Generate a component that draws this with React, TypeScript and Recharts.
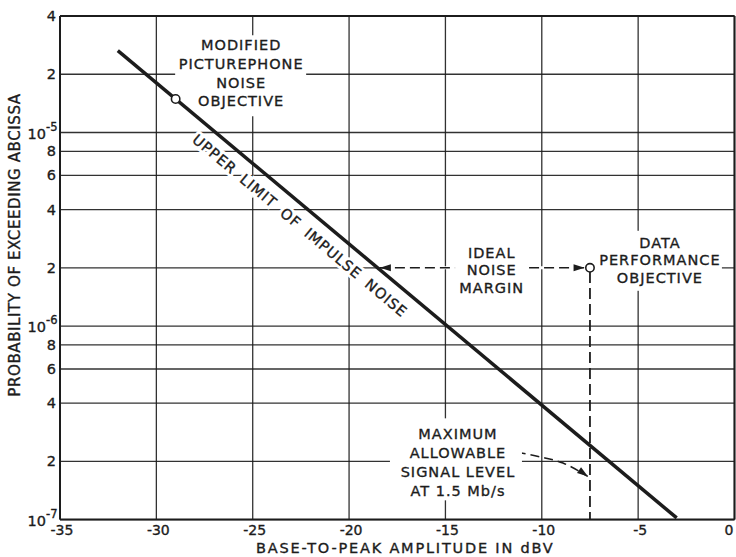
import {
  ComposedChart,
  Line,
  Scatter,
  XAxis,
  YAxis,
  CartesianGrid,
  ReferenceLine,
  ReferenceDot,
} from 'recharts'

const xTicks = [-35, -30, -25, -20, -15, -10, -5, 0]
const yTicks = [1e-7, 2e-7, 4e-7, 6e-7, 8e-7, 1e-6, 2e-6, 4e-6, 6e-6, 8e-6, 1e-5, 2e-5, 4e-5]
const yTickLabels = ['10^-7', '2', '4', '6', '8', '10^-6', '2', '4', '6', '8', '10^-5', '2', '4']

// upper limit of impulse noise (straight on log paper)
const impulseLimit = [
  { x: -32, y: 2.65e-5 },
  { x: -3, y: 1.02e-7 },
]
// the two objective points (open circles)
const objectives = [
  { x: -29, y: 1.49e-5 },
  { x: -7.5, y: 2e-6 },
]
// dashed leader from "ALLOWABLE" to the signal level line
const allowableLeader = [
  { x: -11.3, y: 2.23e-7 },
  { x: -10.1, y: 2.11e-7 },
  { x: -8.9, y: 1.96e-7 },
  { x: -7.62, y: 1.67e-7 },
]

const INK = '#1c1c1c'
const FONT = '"DejaVu Sans", sans-serif'
// a touch of outline so the lettering looks as heavy as the drafted original
const HEFT = { stroke: INK, strokeWidth: 0.35 }

const YTick = (props: any) => {
  const { x, y, index } = props
  const label = yTickLabels[index] ?? ''
  if (label.startsWith('10^')) {
    const exp = label.slice(3)
    return (
      <g fontFamily={FONT} fill={INK} {...HEFT}>
        <text x={x - 10} y={y + 6} textAnchor="end" fontSize={14.5}>10</text>
        <text x={x - 10} y={y - 2} textAnchor="start" fontSize={11.5}>{exp}</text>
      </g>
    )
  }
  return (
    <text x={x} y={y + 5} textAnchor="end" fontSize={14.5} fontFamily={FONT} fill={INK} {...HEFT}>
      {label}
    </text>
  )
}

const XTick = (props: any) => {
  const { x, y, payload } = props
  const last = payload.value === 0
  return (
    <text
      x={last ? x - 1 : x + 2}
      y={y + 15.5}
      textAnchor={last ? 'end' : 'middle'}
      fontSize={14}
      fontFamily={FONT}
      fill={INK}
      {...HEFT}
    >
      {payload.value}
    </text>
  )
}

const TextBlock = ({ cx, cy, lines, offsets, rects }: any) => (
  <g>
    {(rects || []).map((r: number[], i: number) => (
      <rect key={i} x={cx + r[0]} y={cy + r[1]} width={r[2]} height={r[3]} fill="#fff" />
    ))}
    {lines.map((t: string, i: number) => (
      <text
        key={t}
        x={cx}
        y={cy + offsets[i]}
        textAnchor="middle"
        fontSize={14.5}
        letterSpacing={1}
        fontFamily={FONT}
        fill={INK}
        {...HEFT}
      >
        {t}
      </text>
    ))}
  </g>
)

const Arrow = ({ cx, cy, angle }: any) => (
  <polygon
    points={`${cx},${cy} ${cx - 11},${cy - 3.5} ${cx - 11},${cy + 3.5}`}
    transform={`rotate(${angle} ${cx} ${cy})`}
    fill={INK}
  />
)

export default function App() {
  return (
    <div style={{ position: 'absolute', left: 0, top: 0, background: '#fff' }}>
      <ComposedChart width={736} height={557} margin={{ top: 16, right: 1.5, left: 0, bottom: 0 }}>
        <CartesianGrid stroke={INK} strokeWidth={1.3} strokeOpacity={0.9} />
        <XAxis
          type="number"
          dataKey="x"
          domain={[-35, 0]}
          ticks={xTicks}
          interval={0}
          allowDataOverflow
          height={37.4}
          tickLine={false}
          tickSize={0}
          tickMargin={0}
          axisLine={{ stroke: INK, strokeWidth: 2 }}
          tick={XTick}
          label={{
            content: (p: any) => (
              <text
                x={p.viewBox.x + p.viewBox.width / 2 + 8}
                y={p.viewBox.y + 33.5}
                textAnchor="middle"
                fontSize={14.5}
                letterSpacing={1.8}
                fontFamily={FONT}
                fill={INK}
                {...HEFT}
              >
                BASE-TO-PEAK AMPLITUDE IN dBV
              </text>
            ),
          }}
        />
        <YAxis
          type="number"
          dataKey="y"
          scale="log"
          domain={[1e-7, 4e-5]}
          ticks={yTicks}
          interval={0}
          allowDataOverflow
          width={60}
          tickLine={false}
          tickSize={0}
          tickMargin={4}
          axisLine={{ stroke: INK, strokeWidth: 2 }}
          tick={YTick}
          label={{
            content: () => (
              <text
                x={0}
                y={0}
                transform="translate(20 245) rotate(-90)"
                textAnchor="middle"
                fontSize={15}
                letterSpacing={0.6}
                fontFamily={FONT}
                fill={INK}
                {...HEFT}
              >
                PROBABILITY OF EXCEEDING ABCISSA
              </text>
            ),
          }}
        />
        <ReferenceLine x={0} stroke={INK} strokeWidth={2} />
        <ReferenceLine y={4e-5} stroke={INK} strokeWidth={2} />

        {/* cover the 2e-6 grid line where the dashed margin runs */}
        <ReferenceLine
          segment={[{ x: -18.1, y: 2e-6 }, { x: -2.2, y: 2e-6 }]}
          stroke="#fff"
          strokeWidth={3}
        />

        {/* text blocks with white knock-outs */}
        <ReferenceDot
          x={-25.6}
          y={2e-5}
          r={0}
          shape={(p: any) => (
            <TextBlock
              cx={p.cx}
              cy={p.cy}
              lines={['MODIFIED', 'PICTUREPHONE', 'NOISE', 'OBJECTIVE']}
              offsets={[-24, -5, 13.5, 32]}
              rects={[[-66, -39, 131, 54], [-20, 14, 40, 28]]}
            />
          )}
        />
        <ReferenceDot
          x={-12.6}
          y={2e-6}
          r={0}
          shape={(p: any) => (
            <TextBlock
              cx={p.cx}
              cy={p.cy}
              lines={['IDEAL', 'NOISE', 'MARGIN']}
              offsets={[-10, 7.5, 25]}
            />
          )}
        />
        <ReferenceDot
          x={-3.87}
          y={2e-6}
          r={0}
          shape={(p: any) => (
            <TextBlock
              cx={p.cx}
              cy={p.cy}
              lines={['DATA', 'PERFORMANCE', 'OBJECTIVE']}
              offsets={[-20, -2.5, 15]}
              rects={[[-62, -37, 124, 60]]}
            />
          )}
        />
        <ReferenceDot
          x={-14.35}
          y={2e-7}
          r={0}
          shape={(p: any) => (
            <TextBlock
              cx={p.cx}
              cy={p.cy}
              lines={['MAXIMUM', 'ALLOWABLE', 'SIGNAL LEVEL', 'AT 1.5  Mb/s']}
              offsets={[-22, -3, 16, 35]}
              rects={[[-68, -43, 132, 82]]}
            />
          )}
        />
        <ReferenceDot
          x={-22.55}
          y={3.3e-6}
          r={0}
          shape={(p: any) => (
            <g transform={`rotate(40 ${p.cx} ${p.cy})`} fontFamily={FONT} fontSize={14.5}>
              <text
                x={p.cx}
                y={p.cy + 5}
                textAnchor="middle"
                letterSpacing={1}
                wordSpacing={4}
                fill="#fff"
                stroke="#fff"
                strokeWidth={6}
              >
                UPPER LIMIT OF IMPULSE NOISE
              </text>
              <text
                x={p.cx}
                y={p.cy + 5}
                textAnchor="middle"
                letterSpacing={1}
                wordSpacing={4}
                fill={INK}
                {...HEFT}
              >
                UPPER LIMIT OF IMPULSE NOISE
              </text>
            </g>
          )}
        />

        {/* ideal noise margin, dashed with arrows */}
        <ReferenceLine
          segment={[{ x: -18.4, y: 2e-6 }, { x: -14.5, y: 2e-6 }]}
          stroke={INK}
          strokeWidth={1.6}
          strokeDasharray="10 5"
        />
        <ReferenceLine
          segment={[{ x: -10.66, y: 2e-6 }, { x: -7.75, y: 2e-6 }]}
          stroke={INK}
          strokeWidth={1.6}
          strokeDasharray="10 5"
        />
        <ReferenceLine
          segment={[{ x: -7.5, y: 1.9e-6 }, { x: -7.5, y: 1e-7 }]}
          stroke={INK}
          strokeWidth={1.8}
          strokeDasharray="11 5"
        />
        <ReferenceDot x={-18.4} y={2e-6} r={0} shape={(p: any) => <Arrow cx={p.cx} cy={p.cy} angle={180} />} />
        <ReferenceDot x={-7.78} y={2e-6} r={0} shape={(p: any) => <Arrow cx={p.cx} cy={p.cy} angle={0} />} />
        <ReferenceDot x={-7.6} y={1.67e-7} r={0} shape={(p: any) => <Arrow cx={p.cx} cy={p.cy} angle={35} />} />

        <Line
          data={allowableLeader}
          dataKey="y"
          type="monotone"
          stroke={INK}
          strokeWidth={1.5}
          strokeDasharray="9 5"
          dot={false}
          isAnimationActive={false}
        />
        <Line
          data={impulseLimit}
          dataKey="y"
          type="linear"
          stroke={INK}
          strokeWidth={3.5}
          dot={false}
          isAnimationActive={false}
        />
        <Scatter
          data={objectives}
          dataKey="y"
          isAnimationActive={false}
          shape={(p: any) => (
            <circle cx={p.cx} cy={p.cy} r={4.2} fill="#fff" stroke={INK} strokeWidth={1.6} />
          )}
        />
      </ComposedChart>
    </div>
  )
}
